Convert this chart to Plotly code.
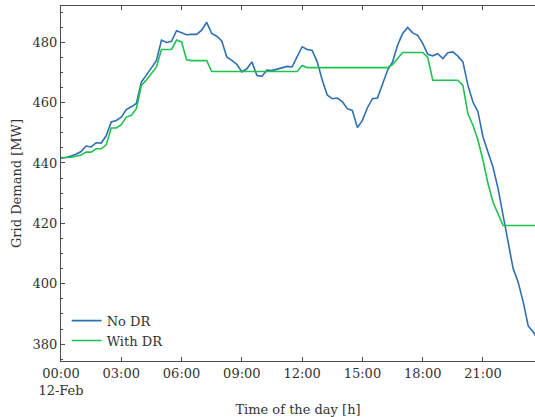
import pandas as pd
import plotly.graph_objects as go

# 15-minute grid demand over one day (MW)
times = pd.date_range("2024-02-12 00:00", periods=96, freq="15min")

no_dr = [
    441.6, 441.8, 442.3, 442.9, 443.8, 445.6, 445.3, 446.7, 446.6, 449.0,
    453.6, 454.1, 455.2, 457.7, 458.6, 459.7, 466.8, 469.0, 471.5, 474.0,
    480.7, 479.9, 480.3, 483.8, 483.2, 482.5, 482.6, 482.6, 484.0, 486.6,
    482.9, 482.0, 480.4, 475.1, 474.0, 472.7, 470.2, 471.2, 473.5, 469.0,
    468.7, 470.8, 470.6, 471.0, 471.5, 472.0, 471.8, 475.0, 478.5, 477.6,
    477.3, 473.5, 467.5, 462.5, 461.3, 461.5, 460.3, 458.0, 457.4, 451.7,
    454.1, 458.3, 461.3, 461.5, 466.3, 470.7, 473.5, 479.0, 482.9, 484.9,
    483.1, 482.3, 479.6, 476.0, 475.5, 476.2, 474.6, 476.5, 476.8, 475.4,
    473.5, 465.7, 460.2, 456.9, 448.6, 443.6, 438.6, 431.5, 422.5, 413.2,
    405.0, 400.5, 394.0, 386.0, 384.0, 381.5,
]

with_dr = [
    441.8, 441.8, 441.9, 442.2, 442.6, 443.6, 443.6, 444.7, 444.7, 446.0,
    451.6, 451.6, 452.7, 455.2, 455.8, 458.0, 465.7, 467.5, 469.8, 471.8,
    477.6, 477.6, 477.6, 480.7, 480.1, 474.2, 473.9, 473.9, 473.9, 473.9,
    470.3, 470.3, 470.3, 470.3, 470.3, 470.3, 470.3, 470.3, 470.3, 470.3,
    470.3, 470.3, 470.3, 470.3, 470.3, 470.3, 470.3, 470.3, 472.3, 471.6,
    471.6, 471.6, 471.6, 471.6, 471.6, 471.6, 471.6, 471.6, 471.6, 471.6,
    471.6, 471.6, 471.6, 471.6, 471.6, 471.6, 472.6, 474.8, 476.6, 476.6,
    476.6, 476.6, 476.6, 475.0, 467.4, 467.4, 467.4, 467.4, 467.4, 467.4,
    465.7, 456.3, 452.5, 447.5, 440.9, 433.1, 427.0, 423.0, 419.3, 419.3,
    419.3, 419.3, 419.3, 419.3, 419.3, 419.3,
]

tick_times = pd.date_range("2024-02-12 00:00", periods=8, freq="3h")
tick_labels = ["00:00<br>12-Feb", "03:00", "06:00", "09:00",
               "12:00", "15:00", "18:00", "21:00"]

axis_col = "#4d4d4d"
text_col = "#333333"

fig = go.Figure()
fig.add_trace(go.Scatter(x=times, y=no_dr, mode="lines", name="No DR",
                         line=dict(color="#2f6fb3", width=1.6)))
fig.add_trace(go.Scatter(x=times, y=with_dr, mode="lines", name="With DR",
                         line=dict(color="#1fc24f", width=1.6)))

fig.update_layout(
    width=535, height=417,
    margin=dict(l=61, r=0, t=6, b=56),
    paper_bgcolor="white", plot_bgcolor="white",
    font=dict(family="DejaVu Serif", size=13, color=text_col),
    showlegend=True,
    legend=dict(x=0.012, y=0.015, xanchor="left", yanchor="bottom",
                bgcolor="rgba(0,0,0,0)", font=dict(size=13),
                tracegroupgap=0),
)

fig.update_xaxes(
    type="date",
    range=["2024-02-12 00:00", "2024-02-12 23:35:17"],
    tickvals=tick_times, ticktext=tick_labels,
    ticks="inside", ticklen=4, tickcolor=axis_col,
    showline=True, linecolor=axis_col, linewidth=1, mirror="allticks",
    showgrid=False, zeroline=False,
    title=dict(text="Time of the day [h]", standoff=10,
               font=dict(size=13, color=text_col)),
    automargin=False,
)

fig.update_yaxes(
    range=[374.4, 492.0],
    tick0=380, dtick=20,
    ticks="inside", ticklen=4, tickcolor=axis_col,
    minor=dict(ticks="inside", ticklen=2, dtick=5, tickcolor=axis_col),
    showline=True, linecolor=axis_col, linewidth=1,
    showgrid=False, zeroline=False,
    title=dict(text="Grid Demand [MW]", standoff=8,
               font=dict(size=13, color=text_col)),
    automargin=False,
)

fig.write_html("out.html")
